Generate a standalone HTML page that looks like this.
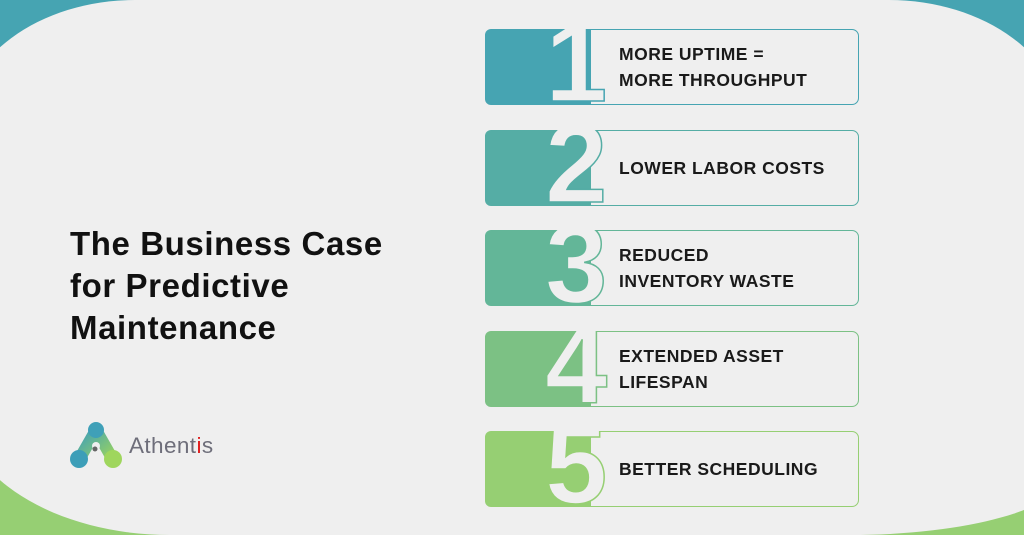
<!DOCTYPE html>
<html><head><meta charset="utf-8"><style>
*{margin:0;padding:0;box-sizing:border-box}
body{width:1024px;height:535px;overflow:hidden;position:relative;background:linear-gradient(180deg,#46a4b2 0%,#46a4b2 30%,#96cf73 75%,#96cf73 100%);font-family:"Liberation Sans",sans-serif}
.bg{position:absolute;left:-40px;top:0;width:1104px;height:535px;background:#efefef;border-radius:175px 175px 214px 210px / 130px 130px 60px 133px}
.title{position:absolute;left:70px;top:223px;font-size:33px;font-weight:bold;line-height:42px;color:#111;letter-spacing:0.6px}
.row{position:absolute;left:485px;width:374px;height:76px;overflow:hidden}
.blk{position:absolute;left:0;top:0;width:106px;height:76px;border-radius:6px 0 0 6px}
.box{position:absolute;left:105px;top:0;width:269px;height:76px;border:1.5px solid;border-radius:0 7px 7px 0}
.dig{position:absolute;left:60px;top:-22px;font-size:112px;font-weight:bold;color:#efefef;line-height:1;-webkit-text-stroke:1.5px currentColor}
.txt{position:absolute;left:134px;top:0;height:76px;display:flex;align-items:center;font-size:17.5px;font-weight:bold;color:#1a1a1a;line-height:26px;letter-spacing:0.5px}
.logo{position:absolute;left:70px;top:422px}
.brand{position:absolute;left:129px;top:433px;font-size:22.5px;color:#6e6e7a;letter-spacing:0.4px}
</style></head><body>
<div class="bg"></div>
<div class="title">The Business Case<br>for Predictive<br>Maintenance</div>

<div class="row" style="top:29px"><div class="blk" style="background:#46a4b2"></div><div class="box" style="border-color:#46a4b2"></div><div class="dig" style="-webkit-text-stroke-color:#46a4b2">1</div><div class="txt">MORE UPTIME =<br>MORE THROUGHPUT</div></div>
<div class="row" style="top:130px"><div class="blk" style="background:#55ada5"></div><div class="box" style="border-color:#55ada5"></div><div class="dig" style="-webkit-text-stroke-color:#55ada5">2</div><div class="txt">LOWER LABOR COSTS</div></div>
<div class="row" style="top:230px"><div class="blk" style="background:#63b698"></div><div class="box" style="border-color:#63b698"></div><div class="dig" style="-webkit-text-stroke-color:#63b698">3</div><div class="txt">REDUCED<br>INVENTORY WASTE</div></div>
<div class="row" style="top:331px"><div class="blk" style="background:#7cc184"></div><div class="box" style="border-color:#7cc184"></div><div class="dig" style="-webkit-text-stroke-color:#7cc184">4</div><div class="txt">EXTENDED ASSET<br>LIFESPAN</div></div>
<div class="row" style="top:431px"><div class="blk" style="background:#96cf73"></div><div class="box" style="border-color:#96cf73"></div><div class="dig" style="-webkit-text-stroke-color:#96cf73">5</div><div class="txt">BETTER SCHEDULING</div></div>

<svg class="logo" width="52" height="48" viewBox="0 0 52 48">
<defs><linearGradient id="g" x1="0" y1="0" x2="1" y2="1"><stop offset="0" stop-color="#3d9fbb"/><stop offset="1" stop-color="#9ad35e"/></linearGradient></defs>
<path d="M26 8 L10 36 M26 8 L42 36" stroke="url(#g)" stroke-width="12" stroke-linecap="round" fill="none"/>
<circle cx="26" cy="8" r="8" fill="#3fa0b8"/>
<circle cx="9" cy="37" r="9" fill="#3d9eb8"/>
<circle cx="43" cy="37" r="9" fill="#9fd65d"/>
<circle cx="26" cy="24" r="4" fill="#efefef"/>
<circle cx="25" cy="27" r="2.5" fill="#666"/>
</svg>
<div class="brand">Athent<span style="color:#e02020">i</span>s</div>
</body></html>
